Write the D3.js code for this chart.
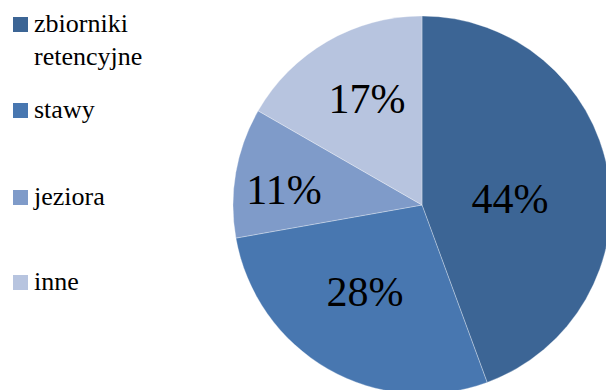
<!DOCTYPE html>
<html lang="pl">
<head>
    <meta charset="UTF-8">
    <title>Pie</title>
    <script src="https://d3js.org/d3.v7.min.js"></script>
    <style>
        body { margin: 0; background: white; }
    </style>
</head>
<body>
<script>
    const width = 606;
    const height = 390;
    const fontFamily = "'Times New Roman', 'Liberation Serif', Tinos, 'DejaVu Serif', serif";

    // data
    const categories = ["zbiorniki retencyjne", "stawy", "jeziora", "inne"];
    const values = [44.4, 27.8, 11.1, 16.7];
    const labels = ["44%", "28%", "11%", "17%"];
    const colors = ["#3c6595", "#4877b0", "#7f9bc9", "#b7c4df"];

    const svg = d3.select("body").append("svg")
            .attr("width", width).attr("height", height)
            .style("font-family", fontFamily);

    const cx = 422, cy = 205, radius = 189;

    const pie = d3.pie().sort(null).value(d => d.value);
    const arc = d3.arc().innerRadius(0).outerRadius(radius);

    const data = categories.map((c, i) => ({name: c, value: values[i], label: labels[i], color: colors[i]}));

    const g = svg.append("g").attr("transform", `translate(${cx},${cy})`);

    g.selectAll("path.slice")
            .data(pie(data))
            .enter()
            .append("path")
            .attr("class", "slice")
            .attr("d", arc)
            .style("fill", d => d.data.color)
            .style("stroke", "white")
            .style("stroke-width", 0.6)
            .style("stroke-opacity", 0.5);

    // label offsets tuned to the picture
    const labelPos = [[88, 8], [-57, 101], [-138, -1], [-55, -92]];
    g.selectAll("text.pct")
            .data(pie(data))
            .enter()
            .append("text")
            .attr("class", "pct")
            .attr("x", (d, i) => labelPos[i][0])
            .attr("y", (d, i) => labelPos[i][1])
            .attr("text-anchor", "middle")
            .attr("font-family", fontFamily)
            .style("font-size", "42px")
            .text(d => d.data.label);

    // legend
    const legendRows = [
        {lines: ["zbiorniki", "retencyjne"], y: 32},
        {lines: ["stawy"], y: 118},
        {lines: ["jeziora"], y: 205},
        {lines: ["inne"], y: 290}
    ];
    const legend = svg.selectAll("g.legend")
            .data(legendRows)
            .enter()
            .append("g")
            .attr("class", "legend");

    legend.append("rect")
            .attr("x", 13)
            .attr("y", d => d.y - 15)
            .attr("width", 15)
            .attr("height", 15)
            .style("fill", (d, i) => colors[i]);

    legend.append("text")
            .attr("x", 34)
            .attr("y", d => d.y)
            .attr("font-family", fontFamily)
            .style("font-size", "26px")
            .selectAll("tspan")
            .data(d => d.lines)
            .enter()
            .append("tspan")
            .attr("x", 34)
            .attr("dy", (d, i) => i === 0 ? 0 : 33)
            .text(d => d);
</script>
</body>
</html>
